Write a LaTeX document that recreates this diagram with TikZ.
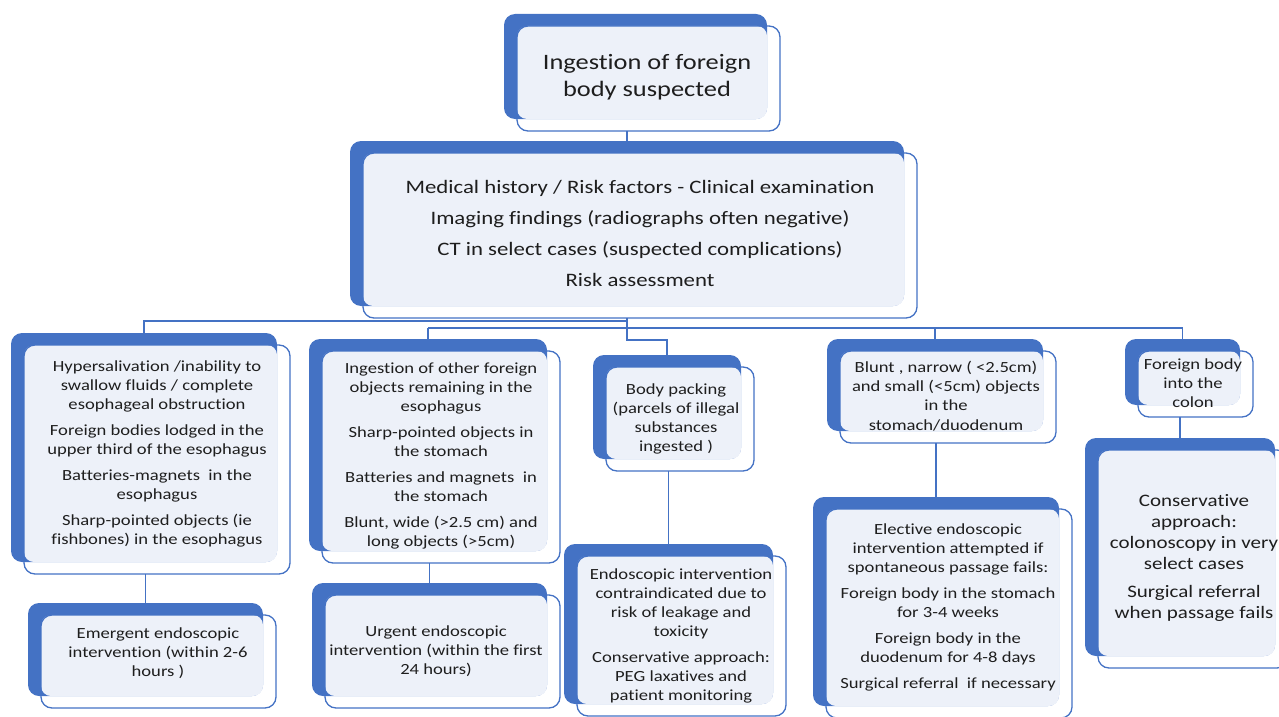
\documentclass[tikz,border=0pt]{standalone}
\usepackage{fontspec}
\setmainfont{Carlito}[FakeStretch=1.2,Ligatures=NoCommon]
\usetikzlibrary{backgrounds}
\definecolor{dblue}{HTML}{4472C4}
\definecolor{lfill}{HTML}{EDF1F9}
\definecolor{txtc}{HTML}{1E1E1E}
\tikzset{
  x=1pt,y=-1pt,
  darkbox/.style={draw=none,fill=dblue,rounded corners=11pt,inner sep=0pt,outer sep=0pt},
  frontbox/.style={draw=dblue,line width=1.3pt,rounded corners=11pt,inner sep=0pt,outer sep=0pt},
  lightfill/.style={fill=lfill,rounded corners=10pt},
  conn/.style={draw=dblue,line width=1.4pt},
  txt/.style={text=txtc,align=center,inner sep=0pt,font=\fontsize{15.5}{19.2}\selectfont},
}
% #1 name, #2 x1, #3 y1, #4 x2, #5 y2 of the dark (back) rectangle
\newcommand\shbox[5]{%
  \node[darkbox,minimum width={#4-#2},minimum height={#5-#3}] (#1d) at ({(#2+#4)/2},{(#3+#5)/2}) {};
  \path[lightfill] ({#2+13},{#3+12}) rectangle (#4,#5);
  \node[frontbox,minimum width={#4-#2},minimum height={#5-#3}] (#1) at ({(#2+#4)/2+13},{(#3+#5)/2+12}) {};
}
\begin{document}
\begin{tikzpicture}
\useasboundingbox (0,0) rectangle (1279,717);

\shbox{top}{504}{14}{767}{119}
\shbox{cen}{350}{141}{904}{306}
\shbox{ba}{11}{333}{277}{562}
\shbox{bab}{28}{603}{263}{696}
\shbox{bb}{309}{339}{547}{551}
\shbox{bbb}{312}{583}{547}{696}
\shbox{bc}{593}{355}{741}{459}
\shbox{bcb}{564}{544}{773}{704}
\shbox{bd}{827}{339}{1043}{431}
\shbox{bdb}{813}{497}{1059}{706}
\shbox{be}{1125}{339}{1240}{405}
\shbox{beb}{1085}{438}{1275}{656}

\node[txt,font=\fontsize{22}{27}\selectfont] (ttop) at (647,77) {Ingestion of foreign\\body suspected};
\node[txt,font=\fontsize{19}{23}\selectfont] (tcen) at (640,233) {Medical history / Risk factors - Clinical examination\\[8pt]Imaging findings (radiographs often negative)\\[8pt]CT in select cases (suspected complications)\\[8pt]Risk assessment};
\node[txt] (tba) at (157,454) {Hypersalivation /inability to\\swallow fluids / complete\\esophageal obstruction\\[6.5pt]Foreign bodies lodged in the\\upper third of the esophagus\\[6.5pt]Batteries-magnets\ \ in the\\esophagus\\[6.5pt]Sharp-pointed objects (ie\\fishbones) in the esophagus};
\node[txt] (tbab) at (158,653) {Emergent endoscopic\\intervention (within 2-6\\hours )};
\node[txt] (tbb) at (441,456) {Ingestion of other foreign\\objects remaining in the\\esophagus\\[6.5pt]Sharp-pointed objects in\\the stomach\\[6.5pt]Batteries and magnets\ \ in\\the stomach\\[6.5pt]Blunt, wide (>2.5 cm) and\\long objects (>5cm)};
\node[txt] (tbbb) at (436,651) {Urgent endoscopic\\intervention (within the first\\24 hours)};
\node[txt] (tbc) at (676,419) {Body packing\\(parcels of illegal\\substances\\ingested )};
\node[txt] (tbcb) at (681,636) {Endoscopic intervention\\contraindicated due to\\risk of leakage and\\toxicity\\[6.5pt]Conservative approach:\\PEG laxatives and\\patient monitoring};
\node[txt] (tbd) at (946,396) {Blunt , narrow ( <2.5cm)\\and small (<5cm) objects\\in the\\stomach/duodenum};
\node[txt] (tbdb) at (948,607) {Elective endoscopic\\intervention attempted if\\spontaneous passage fails:\\[6.5pt]Foreign body in the stomach\\for 3-4 weeks\\[6.5pt]Foreign body in the\\duodenum for 4-8 days\\[6.5pt]Surgical referral\ \ if necessary};
\node[txt] (tbe) at (1193,383) {Foreign body\\into the\\colon};
\node[txt,font=\fontsize{17.5}{21.2}\selectfont] (tbeb) at (1194,558) {Conservative\\approach:\\colonoscopy in very\\select cases\\[6.5pt]Surgical referral\\when passage fails};

\begin{scope}[on background layer]
  \coordinate (busA) at (0,321);
  \coordinate (busB) at (0,328);
  \coordinate (busC) at (0,340);
  \draw[conn] (cend.north) -- (cend.north |- top.south);
  \draw[conn] (cend.north |- cen.south) -- (cend.north |- busC) -| (bcd.north);
  \draw[conn] (cend.north |- busA) -| (bad.north);
  \draw[conn] (bbd.north |- busB) -- (bed.north |- busB);
  \draw[conn] (bbd.north |- busB) -- (bbd.north);
  \draw[conn] (bdd.north |- busB) -- (bdd.north);
  \draw[conn] (bed.north |- busB) -- (bed.north);
  \draw[conn] (babd.north) -- (babd.north |- ba.south);
  \draw[conn] (bbbd.north) -- (bbbd.north |- bb.south);
  \draw[conn] (bcbd.north) -- (bcbd.north |- bc.south);
  \draw[conn] (bdbd.north) -- (bdbd.north |- bd.south);
  \draw[conn] (bebd.north) -- (bebd.north |- be.south);
\end{scope}
\end{tikzpicture}
\end{document}
